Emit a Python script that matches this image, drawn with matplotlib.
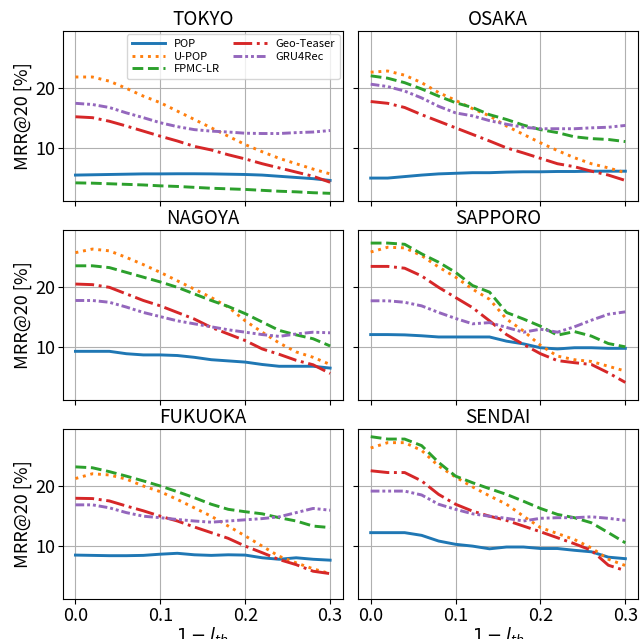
#!/usr/bin/env python3
"""plot.py — MRR@20 vs 1 - l_th for six cities, five methods."""

import matplotlib
matplotlib.use("Agg")
import matplotlib.pyplot as plt

plt.rcParams["font.family"] = ["Noto Sans CJK JP", "DejaVu Sans"]

# ─── Data ────────────────────────────────────────────────────────────────────

x_vals = [0.00, 0.02, 0.04, 0.06, 0.08, 0.10, 0.12, 0.14,
          0.16, 0.18, 0.20, 0.22, 0.24, 0.26, 0.28, 0.30]

cities = ["TOKYO", "OSAKA", "NAGOYA", "SAPPORO", "FUKUOKA", "SENDAI"]
methods = ["POP", "U-POP", "FPMC-LR", "Geo-Teaser", "GRU4Rec"]

tokyo_pop = [5.5, 5.55, 5.6, 5.65, 5.7, 5.7, 5.72, 5.72, 5.7, 5.65, 5.6, 5.5, 5.3, 5.1, 4.9, 4.6]
tokyo_upop = [21.9, 21.9, 21.2, 20.0, 18.7, 17.6, 16.2, 14.8, 13.4, 12.0, 10.6, 9.4, 8.3, 7.4, 6.5, 5.7]
tokyo_fpmc = [4.2, 4.15, 4.05, 3.95, 3.85, 3.7, 3.6, 3.45, 3.3, 3.2, 3.1, 2.95, 2.8, 2.7, 2.55, 2.45]
tokyo_geo = [15.25, 15.1, 14.5, 13.7, 12.85, 12.0, 11.2, 10.3, 9.7, 8.9, 8.2, 7.4, 6.7, 6.0, 5.3, 4.3]
tokyo_gru = [17.5, 17.3, 16.8, 15.9, 15.1, 14.25, 13.6, 13.1, 12.85, 12.7, 12.5, 12.45, 12.45, 12.6, 12.7, 12.95]

osaka_pop = [5.0, 5.0, 5.25, 5.5, 5.7, 5.8, 5.9, 5.9, 6.0, 6.05, 6.05, 6.1, 6.1, 6.15, 6.15, 6.15]
osaka_upop = [22.7, 22.9, 22.2, 20.95, 19.3, 18.0, 16.6, 15.4, 13.7, 12.3, 10.9, 9.6, 8.4, 7.4, 6.7, 5.9]
osaka_fpmc = [22.1, 21.7, 20.95, 19.9, 18.7, 17.6, 16.8, 15.6, 14.8, 13.85, 13.1, 12.6, 11.9, 11.6, 11.45, 11.1]
osaka_geo = [17.8, 17.5, 16.8, 15.6, 14.5, 13.4, 12.3, 11.2, 10.05, 9.2, 8.3, 7.4, 6.9, 6.15, 5.5, 4.6]
osaka_gru = [20.7, 20.3, 19.55, 18.4, 17.0, 15.9, 15.4, 14.6, 14.0, 13.5, 13.25, 13.25, 13.25, 13.4, 13.5, 13.8]

nagoya_pop = [9.3, 9.3, 9.3, 8.9, 8.7, 8.7, 8.6, 8.3, 7.9, 7.7, 7.5, 7.1, 6.8, 6.8, 6.8, 6.5]
nagoya_upop = [25.8, 26.4, 26.1, 25.0, 23.8, 22.5, 21.1, 19.7, 18.3, 16.7, 14.4, 12.5, 10.7, 9.2, 8.3, 7.1]
nagoya_fpmc = [23.6, 23.6, 23.3, 22.5, 21.7, 20.9, 20.0, 18.9, 17.8, 16.8, 15.6, 14.2, 12.8, 12.05, 11.4, 10.2]
nagoya_geo = [20.55, 20.45, 20.0, 18.9, 17.8, 16.9, 15.8, 14.7, 13.3, 12.2, 11.1, 9.7, 8.8, 7.8, 7.05, 5.6]
nagoya_gru = [17.8, 17.8, 17.5, 16.7, 15.8, 15.1, 14.4, 13.9, 13.4, 12.9, 12.5, 12.1, 11.8, 12.2, 12.5, 12.4]

sapporo_pop = [12.1, 12.1, 12.05, 11.9, 11.7, 11.7, 11.7, 11.7, 11.0, 10.55, 9.9, 9.7, 9.9, 9.9, 9.8, 9.8]
sapporo_upop = [25.9, 26.7, 26.6, 25.3, 23.4, 21.7, 19.7, 18.0, 14.7, 12.7, 10.3, 8.5, 7.9, 7.6, 6.8, 6.0]
sapporo_fpmc = [27.4, 27.4, 27.2, 25.6, 24.2, 22.5, 20.3, 19.2, 15.8, 14.7, 13.5, 12.0, 12.6, 11.85, 10.6, 10.05]
sapporo_geo = [23.5, 23.5, 23.2, 21.9, 20.0, 18.3, 16.6, 14.4, 12.1, 10.45, 8.9, 7.75, 7.4, 7.1, 5.7, 4.1]
sapporo_gru = [17.75, 17.75, 17.5, 16.9, 15.8, 14.8, 13.9, 14.1, 13.3, 12.5, 13.0, 12.5, 13.4, 14.5, 15.5, 15.9]

fukuoka_pop = [8.5, 8.45, 8.4, 8.4, 8.45, 8.65, 8.8, 8.55, 8.45, 8.55, 8.5, 8.05, 7.8, 8.05, 7.8, 7.65]
fukuoka_upop = [21.3, 22.1, 21.9, 21.2, 20.05, 19.1, 17.8, 16.4, 15.0, 13.35, 11.7, 10.0, 8.3, 7.2, 6.2, 5.4]
fukuoka_fpmc = [23.25, 23.1, 22.45, 21.7, 20.9, 20.05, 19.1, 18.1, 17.0, 16.15, 15.75, 15.4, 14.75, 14.2, 13.35, 13.1]
fukuoka_geo = [18.0, 17.95, 17.55, 16.7, 15.9, 15.0, 14.2, 13.2, 12.25, 11.3, 10.0, 8.9, 7.75, 6.9, 5.8, 5.4]
fukuoka_gru = [16.9, 16.9, 16.4, 15.6, 15.0, 14.75, 14.45, 14.2, 14.0, 14.2, 14.4, 14.6, 14.9, 15.6, 16.3, 16.0]

sendai_pop = [12.25, 12.25, 12.25, 11.8, 10.85, 10.3, 10.0, 9.55, 9.85, 9.85, 9.6, 9.6, 9.3, 9.05, 8.15, 7.9]
sendai_upop = [26.4, 27.3, 27.3, 26.0, 23.4, 21.55, 19.9, 18.4, 17.0, 15.0, 13.1, 12.1, 11.1, 9.7, 7.8, 6.75]
sendai_fpmc = [28.3, 27.9, 27.9, 26.8, 24.0, 21.7, 20.6, 19.6, 18.65, 17.5, 16.3, 15.3, 14.75, 13.9, 12.25, 10.55]
sendai_geo = [22.6, 22.3, 22.3, 20.9, 18.65, 17.0, 15.85, 15.0, 14.3, 13.35, 12.4, 11.4, 10.4, 9.3, 6.8, 5.9]
sendai_gru = [19.2, 19.2, 19.2, 18.55, 17.0, 16.15, 15.4, 15.0, 14.65, 14.2, 14.65, 14.75, 14.75, 14.9, 14.65, 14.3]

city_series = {
    "TOKYO":   [tokyo_pop, tokyo_upop, tokyo_fpmc, tokyo_geo, tokyo_gru],
    "OSAKA":   [osaka_pop, osaka_upop, osaka_fpmc, osaka_geo, osaka_gru],
    "NAGOYA":  [nagoya_pop, nagoya_upop, nagoya_fpmc, nagoya_geo, nagoya_gru],
    "SAPPORO": [sapporo_pop, sapporo_upop, sapporo_fpmc, sapporo_geo, sapporo_gru],
    "FUKUOKA": [fukuoka_pop, fukuoka_upop, fukuoka_fpmc, fukuoka_geo, fukuoka_gru],
    "SENDAI":  [sendai_pop, sendai_upop, sendai_fpmc, sendai_geo, sendai_gru],
}

# ─── Styles ──────────────────────────────────────────────────────────────────

colors = ["#1f77b4", "#ff7f0e", "#2ca02c", "#d62728", "#9467bd"]
styles = ["-", ":", "--", "-.", (0, (3, 1, 1, 1, 1, 1))]


def main():
    fig, axes = plt.subplots(3, 2, figsize=(6.4, 6.39), dpi=100,
                             sharex=True, sharey=True)
    fig.subplots_adjust(left=0.098, right=0.997, top=0.9515, bottom=0.0626,
                        wspace=0.054, hspace=0.17)

    for ax, city in zip(axes.flat, cities):
        for vals, name, c, ls in zip(city_series[city], methods, colors, styles):
            ax.plot(x_vals, vals, color=c, linestyle=ls, linewidth=2.1, label=name)
        ax.set_title(city, fontsize=13.5, pad=4)
        ax.grid(True, color="#b0b0b0", linewidth=0.8)
        ax.tick_params(labelsize=13, pad=2)

    axes[0, 0].set_yticks([10, 20])
    axes[0, 0].set_xticks([0.0, 0.1, 0.2, 0.3])
    for ax in axes[:, 0]:
        ax.set_ylabel("MRR@20 [%]", fontsize=13, labelpad=2)
    for ax in axes[-1, :]:
        ax.set_xlabel(r"$1-l_{th}$", fontsize=13, labelpad=0)

    axes[0, 0].legend(loc="upper right", ncol=2, fontsize=8,
                      handlelength=3, columnspacing=1.2, borderaxespad=0.3,
                      handletextpad=0.8, labelspacing=0.25)

    fig.savefig("out.png", dpi=100)
    plt.close(fig)


if __name__ == "__main__":
    main()
